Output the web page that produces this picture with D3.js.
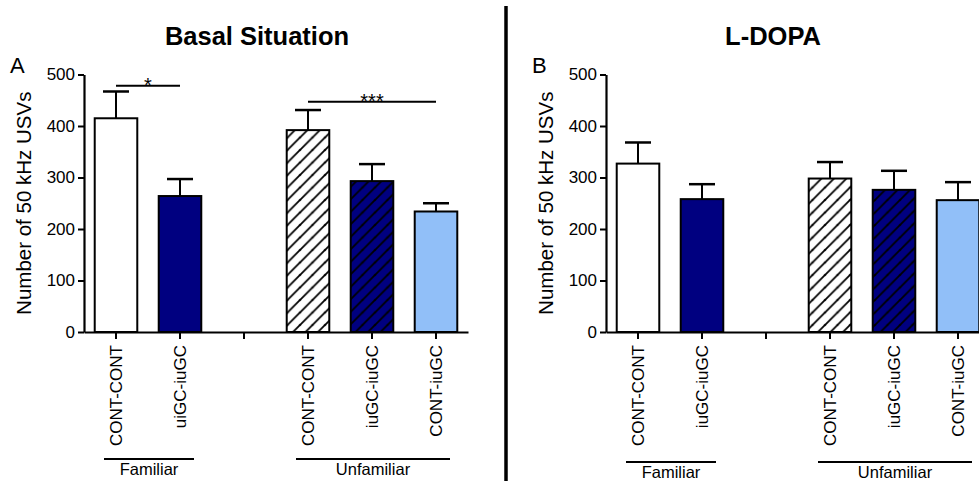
<!DOCTYPE html>
<html>
<head>
<meta charset="utf-8">
<script src="https://cdn.jsdelivr.net/npm/d3@7"></script>
<style>
  body { margin: 0; background: #fff; }
  svg text { font-family: Arial, "Liberation Sans", sans-serif; fill: #000; }
</style>
</head>
<body>
<div class="chart"></div>
<script>
// Data
var slots = [0, 1, 2, 3, 4, 5]  // slot 2 is the empty gap between groups
  , labelsA = ['CONT-CONT', 'uiGC-iuGC', '', 'CONT-CONT', 'iuGC-iuGC', 'CONT-iuGC']
  , labelsB = ['CONT-CONT', 'iuGC-iuGC', '', 'CONT-CONT', 'iuGC-iuGC', 'CONT-iuGC']
  , basalMean = [415, 264, null, 392, 293, 234]
  , basalSem = [52, 33, null, 39, 33, 16]
  , ldopaMean = [327, 258, null, 298, 276, 256]
  , ldopaSem = [41, 29, null, 32, 37, 35]
  , yTicks = [0, 100, 200, 300, 400, 500]
  , groupNames = ['Familiar', 'Unfamiliar']
  , groupSpans = [[0, 1], [3, 5]]
  , sigA = [{ from: 0, to: 1, at: 478, txt: '*' }, { from: 3, to: 5, at: 447, txt: '***' }];

// styles per slot
var fills = ['#fff', '#000080', null, 'url(#hatchW)', 'url(#hatchN)', '#91BFF8'];

var W = 979, H = 481;

var svg = d3.select('.chart').append('svg')
  .attr('width', W)
  .attr('height', H);

var defs = svg.append('defs');
[['hatchW', '#fff'], ['hatchN', '#000080']].forEach(function (p) {
  var pat = defs.append('pattern')
    .attr('id', p[0])
    .attr('patternUnits', 'userSpaceOnUse')
    .attr('width', 12.5)
    .attr('height', 12.5);
  pat.append('rect').attr('width', 12.5).attr('height', 12.5).attr('fill', p[1]);
  pat.append('path')
    .attr('d', 'M-3,3.25 L3.25,-3 M0,12.5 L12.5,0 M9.25,15.5 L15.5,9.25')
    .attr('stroke', '#000')
    .attr('stroke-width', 1.8);
});

var y = d3.scaleLinear().domain([0, 500]).range([332, 74.5]);

var drawPanel = function (opt) {
  var g = svg.append('g')
    , x = d3.scaleBand().domain(slots).range([opt.x0, opt.x0 + 384])
            .paddingInner(0.335).paddingOuter(0.1675);

  // bars
  slots.forEach(function (i) {
    if (opt.mean[i] == null) return;
    var cx = x(i) + x.bandwidth() / 2
      , top = y(opt.mean[i] + opt.sem[i]);
    g.append('line')
      .attr('x1', cx).attr('x2', cx)
      .attr('y1', y(opt.mean[i])).attr('y2', top)
      .attr('stroke', '#000').attr('stroke-width', 2);
    g.append('line')
      .attr('x1', cx - 13).attr('x2', cx + 13)
      .attr('y1', top).attr('y2', top)
      .attr('stroke', '#000').attr('stroke-width', 2.5);
    g.append('rect')
      .attr('x', x(i))
      .attr('y', y(opt.mean[i]))
      .attr('width', x.bandwidth())
      .attr('height', y(0) - y(opt.mean[i]))
      .attr('fill', fills[i])
      .attr('stroke', '#000')
      .attr('stroke-width', 2);
  });

  // y axis
  var yAxis = g.append('g')
    .attr('transform', 'translate(' + opt.x0 + ',0)')
    .call(d3.axisLeft(y).tickValues(yTicks).tickSize(6).tickPadding(3).tickSizeOuter(0));
  yAxis.select('.domain').attr('stroke-width', 2.2);
  yAxis.selectAll('.tick line').attr('stroke-width', 2);
  yAxis.selectAll('.tick text').attr('font-size', 17);

  // x axis
  var xAxis = g.append('g')
    .attr('transform', 'translate(0,' + y(0) + ')')
    .call(d3.axisBottom(x).tickSize(7).tickSizeOuter(0).tickFormat(function (d) { return opt.labels[d]; }));
  xAxis.select('.domain').attr('stroke-width', 2.2);
  xAxis.selectAll('.tick line').attr('stroke-width', 2);
  xAxis.selectAll('.tick text')
    .attr('font-size', 17)
    .attr('transform', 'rotate(-90)')
    .attr('text-anchor', 'end')
    .attr('dy', '0.36em')
    .attr('y', 0)
    .attr('x', -13);

  // group brackets
  groupSpans.forEach(function (s, k) {
    var a = x(s[0]) + x.bandwidth() / 2 - 12
      , b = x(s[1]) + x.bandwidth() / 2 + 14;
    g.append('line')
      .attr('x1', a).attr('x2', b)
      .attr('y1', opt.gy).attr('y2', opt.gy)
      .attr('stroke', '#000').attr('stroke-width', 2);
    g.append('text')
      .attr('x', (a + b) / 2)
      .attr('y', opt.gy + 15.5)
      .attr('text-anchor', 'middle')
      .attr('font-size', 16.5)
      .text(groupNames[k]);
  });

  // y label
  g.append('text')
    .attr('transform', 'translate(' + (opt.x0 - 53) + ',' + y(250) + ') rotate(-90)')
    .attr('text-anchor', 'middle')
    .attr('font-size', 20.5)
    .text('Number of 50 kHz USVs');

  // panel letter
  g.append('text')
    .attr('x', opt.x0 - 74)
    .attr('y', 73)
    .attr('font-size', 22)
    .text(opt.letter);

  // title
  g.append('text')
    .attr('x', opt.tx)
    .attr('y', 45)
    .attr('text-anchor', 'middle')
    .attr('font-size', 25.5)
    .attr('font-weight', 'bold')
    .text(opt.title);

  // significance bars
  (opt.sig || []).forEach(function (s) {
    var a = x(s.from) + x.bandwidth() / 2
      , b = x(s.to) + x.bandwidth() / 2
      , yy = y(s.at);
    g.append('line')
      .attr('x1', a).attr('x2', b)
      .attr('y1', yy).attr('y2', yy)
      .attr('stroke', '#000').attr('stroke-width', 2);
    g.append('text')
      .attr('x', (a + b) / 2)
      .attr('y', yy + 6)
      .attr('text-anchor', 'middle')
      .attr('font-size', 20)
      .text(s.txt);
  });
};

drawPanel({ x0: 84, mean: basalMean, sem: basalSem, labels: labelsA, gy: 459,
  letter: 'A', title: 'Basal Situation', tx: 257, sig: sigA });
drawPanel({ x0: 606, mean: ldopaMean, sem: ldopaSem, labels: labelsB, gy: 462,
  letter: 'B', title: 'L-DOPA', tx: 773 });

// divider between panels
svg.append('line')
  .attr('x1', 506).attr('x2', 506)
  .attr('y1', 6).attr('y2', H)
  .attr('stroke', '#000')
  .attr('stroke-width', 3.5);
</script>
</body>
</html>
